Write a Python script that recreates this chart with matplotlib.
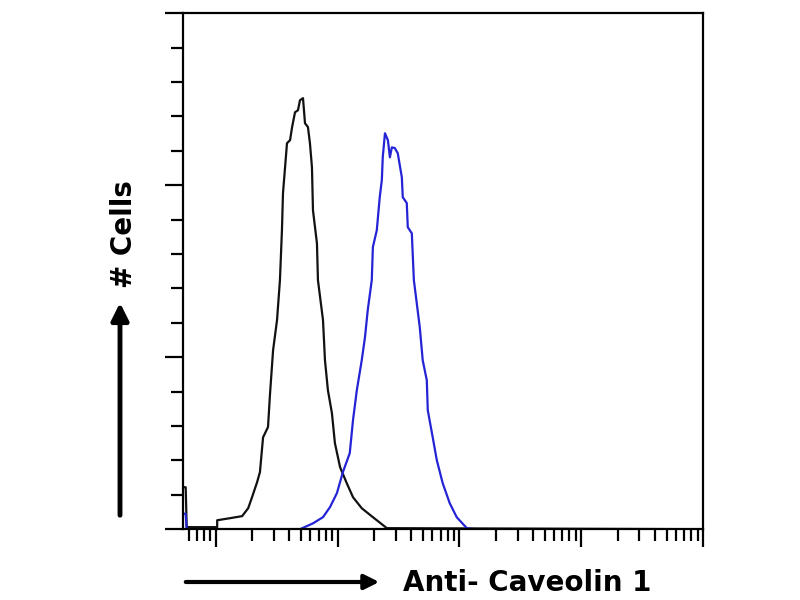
import numpy as np
import matplotlib
matplotlib.use("Agg")
import matplotlib.pyplot as plt
from matplotlib.ticker import LogLocator, MultipleLocator, NullFormatter

# ----------------------------------------------------------------------------
# Histogram outlines (fluorescence intensity, cell count)
control_x = [0.547, 0.568, 0.579, 1.03, 1.03, 1.31, 1.65, 1.85, 1.99, 2.19,
             2.31, 2.45, 2.69, 2.79, 2.96, 3.19, 3.37, 3.50, 3.57, 3.85,
             4.08, 4.24, 4.48, 4.74, 4.92, 5.21, 5.41, 5.72, 5.94, 6.17,
             6.29, 6.78, 6.91, 7.60, 7.89, 8.34, 9.00, 9.52, 10.5, 11.9,
             13.4, 15.8, 19.5, 25.4, 10000]
control_y = [1.22, 1.22, 0.06, 0.06, 0.26, 0.32, 0.38, 0.61, 0.93, 1.37,
             1.66, 2.67, 2.97, 3.90, 5.20, 6.08, 7.24, 8.69, 9.77, 11.22,
             11.31, 11.69, 12.12, 12.18, 12.47, 12.53, 11.80, 11.69, 11.22, 10.52,
             9.27, 8.31, 7.24, 6.08, 4.91, 4.04, 3.37, 2.50, 1.80, 1.34,
             0.93, 0.61, 0.35, 0.03, 0.0]

caveolin_x = [0.547, 0.568, 0.579, 4.92, 6.29, 7.60, 8.67, 9.89, 11.07, 12.6,
              13.4, 14.4, 15.8, 16.8, 17.7, 19.1, 19.5, 21.0, 22.2, 23.1,
              23.5, 24.5, 25.9, 26.9, 27.9, 29.5, 31.2, 33.7, 34.3, 37.0,
              37.7, 40.7, 42.3, 47.3, 50.0, 54.0, 55.0, 60.4, 65.2, 72.9,
              83.2, 95.0, 115, 133, 10000]
caveolin_y = [0.45, 0.45, 0.0, 0.0, 0.17, 0.35, 0.64, 1.05, 1.66, 2.21,
              3.17, 4.04, 4.91, 5.58, 6.37, 7.24, 8.20, 8.69, 9.65, 10.15,
              10.81, 11.51, 11.31, 10.81, 11.10, 11.08, 10.93, 10.23, 9.65, 9.48,
              8.78, 8.60, 7.24, 5.87, 4.91, 4.33, 3.46, 2.67, 2.01, 1.34,
              0.76, 0.35, 0.03, 0.0, 0.0]

x_label = "Anti- Caveolin 1"
y_label = "# Cells"

# ----------------------------------------------------------------------------
fig = plt.figure(figsize=(8, 6), dpi=100)
ax = fig.add_axes([0.229, 0.118, 0.65, 0.86])

ax.plot(control_x, control_y, color="#111111", lw=1.6)
ax.plot(caveolin_x, caveolin_y, color="#2424d6", lw=1.6)

ax.set_xscale("log")
ax.set_xlim(0.542, 10000)
ax.set_ylim(0, 15)

ax.xaxis.set_major_locator(LogLocator(base=10))
ax.xaxis.set_minor_locator(LogLocator(base=10, subs=np.arange(2, 10)))
ax.xaxis.set_major_formatter(NullFormatter())
ax.xaxis.set_minor_formatter(NullFormatter())
ax.yaxis.set_major_locator(MultipleLocator(5))
ax.yaxis.set_minor_locator(MultipleLocator(1))
ax.yaxis.set_major_formatter(NullFormatter())

ax.tick_params(which="major", direction="out", length=13, width=1.6,
               top=False, right=False)
ax.tick_params(which="minor", direction="out", length=8.5, width=1.6,
               top=False, right=False)
for sp in ax.spines.values():
    sp.set_linewidth(1.6)

# Axis arrows and labels
fig.patches  # keep figure-level drawing simple
ax.annotate("", xy=(382, 18), xytext=(183, 18), xycoords="figure pixels",
            textcoords="figure pixels",
            arrowprops=dict(arrowstyle="-|>", lw=3, color="black",
                            mutation_scale=22))
ax.annotate("", xy=(120, 300), xytext=(120, 82), xycoords="figure pixels",
            textcoords="figure pixels",
            arrowprops=dict(arrowstyle="-|>", lw=3.5, color="black",
                            mutation_scale=26))
fig.text(527 / 800, 17 / 600, x_label, ha="center", va="center",
         fontsize=20, fontweight="bold")
fig.text(124 / 800, 366 / 600, y_label, ha="center", va="center",
         rotation=90, fontsize=20, fontweight="bold")

plt.savefig("out.png", dpi=100)
